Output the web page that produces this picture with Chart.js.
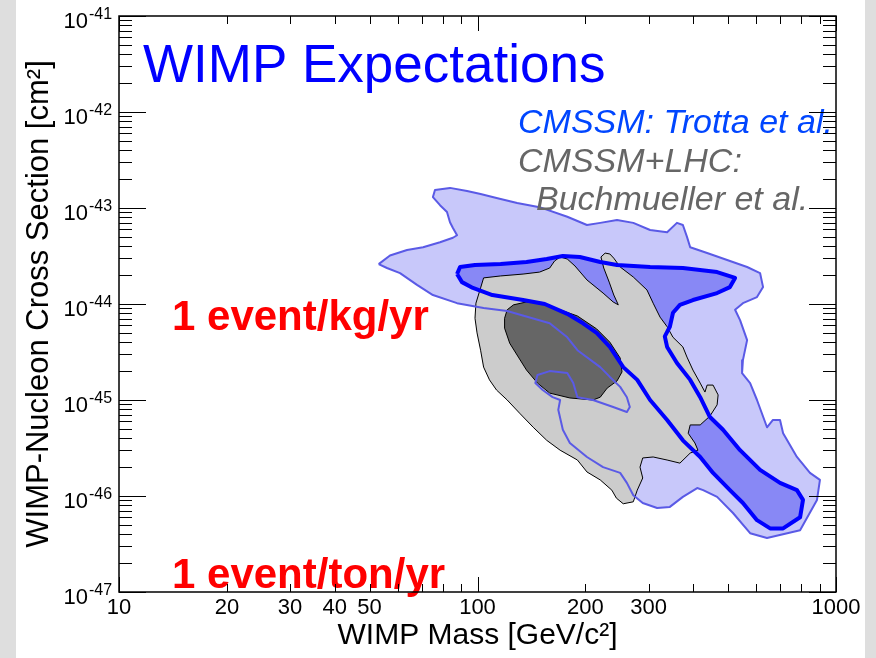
<!DOCTYPE html>
<html>
<head>
<meta charset="utf-8">
<title>WIMP Expectations</title>
<script src="https://cdn.jsdelivr.net/npm/chart.js@4.4.1/dist/chart.umd.min.js"></script>
<style>
  html, body { margin: 0; padding: 0; }
  body {
    width: 876px; height: 658px; overflow: hidden;
    background: linear-gradient(to right, #dedede 0, #dedede 16px, #fff 16px, #fff 865px, #dedede 865px);
  }
  canvas { display: block; }
</style>
</head>
<body>
<canvas id="wimpChart" width="876" height="658"></canvas>
<script>
// Axis ticks / labels
const xTickLabels = [10, 20, 30, 40, 50, 100, 200, 300, 1000];
const xDecades = [10, 100];
const yExponents = [-47, -46, -45, -44, -43, -42, -41];

// CMSSM: Trotta et al. - outer (light blue) contour
const trottaOuterMass = [53, 57, 63.6, 70.5, 78.6, 85.4, 87.7, 85.4, 83.8, 82.2, 78.6, 75.1, 76.1, 83.8, 93.5, 102, 113, 129, 149, 178,
  202, 220, 245, 272, 303, 338, 360, 374, 384, 392, 437, 497, 565, 614, 626, 602, 550, 523, 540, 565,
  550, 547, 576, 602, 642, 667, 698, 712, 778, 846, 902, 885, 794, 642, 576, 516, 466, 426, 410, 374,
  344, 317, 289, 272, 261, 250, 224, 202, 181, 173, 168, 170, 162, 152, 145, 147, 159, 178, 185, 190,
  210, 239, 261, 266, 261, 250, 234, 220, 190, 178, 159, 121, 104, 87.7, 75.1, 67.8, 60.8, 55.9];
const trottaOuterSigma = [2.6e-44, 3.2e-44, 3.65e-44, 3.9e-44, 4.4e-44, 4.9e-44, 5.2e-44, 6.2e-44, 7.1e-44, 9.1e-44,
  1.07e-43, 1.3e-43, 1.54e-43, 1.62e-43, 1.5e-43, 1.4e-43, 1.27e-43, 1.13e-43, 1.02e-43, 8.1e-44,
  6.65e-44, 7.0e-44, 7.5e-44, 7.0e-44, 5.9e-44, 5.6e-44, 7.0e-44, 6.65e-44, 5.0e-44, 3.9e-44,
  3.4e-44, 2.87e-44, 2.43e-44, 2.1e-44, 1.5e-44, 1.18e-44, 1.02e-44, 8.7e-45, 6.8e-45, 4.2e-45,
  2.6e-45, 1.9e-45, 1.5e-45, 1.0e-45, 5.2e-46, 6.2e-46, 6.2e-46, 4.5e-46, 2.55e-46, 1.74e-46,
  1.47e-46, 9.1e-47, 4.4e-47, 3.65e-47, 4.1e-47, 6.65e-47, 9.8e-47, 1.15e-46, 1.21e-46, 9.8e-47,
  7.7e-47, 7.5e-47, 8.45e-47, 1.02e-46, 1.37e-46, 1.74e-46, 2.0e-46, 2.55e-46, 3.57e-46, 4.9e-46,
  7.9e-46, 1.0e-45, 1.07e-45, 1.27e-45, 1.5e-45, 1.82e-45, 2.0e-45, 1.91e-45, 1.5e-45, 1.07e-45,
  1.0e-45, 8.45e-46, 7.5e-46, 8.45e-46, 1.07e-45, 1.37e-45, 1.74e-45, 2.2e-45, 3.3e-45, 4.5e-45,
  6.3e-45, 8.45e-45, 9.1e-45, 1.02e-44, 1.24e-44, 1.58e-44, 2.1e-44, 2.37e-44];

// CMSSM: Trotta et al. - inner (thick blue) contour
const trottaInnerMass = [87.7, 89.4, 98.4, 116, 137, 156, 173, 193, 220, 245, 303, 374, 466, 523, 506, 466, 399, 367,
  351, 344, 333, 338, 360, 392, 418, 445, 484, 540, 614, 698, 778, 809, 794, 712, 655, 602,
  550, 506, 454, 418, 374, 338, 303, 279, 255, 234, 215, 197, 178, 154, 134, 110, 97.1, 90.5];
const trottaInnerSigma = [2.05e-44, 2.43e-44, 2.55e-44, 2.61e-44, 2.74e-44, 2.94e-44, 3.16e-44, 3.09e-44, 2.74e-44,
  2.55e-44, 2.43e-44, 2.37e-44, 2.15e-44, 1.87e-44, 1.5e-44, 1.3e-44, 1.1e-44, 9.8e-45,
  8.1e-45, 5.8e-45, 4.6e-45, 3.57e-45, 2.43e-45, 1.62e-45, 1.07e-45, 6.65e-46, 4.9e-46, 3.0e-46,
  1.87e-46, 1.37e-46, 1.15e-46, 9.1e-47, 6.0e-47, 4.6e-47, 4.6e-47, 5.6e-47, 8.45e-47, 1.15e-46,
  1.74e-46, 2.55e-46, 3.8e-46, 6.2e-46, 1.0e-45, 1.62e-45, 2.2e-45, 3.57e-45, 5.0e-45, 6.3e-45,
  7.9e-45, 1.0e-44, 1.1e-44, 1.24e-44, 1.47e-44, 1.69e-44];

// CMSSM+LHC: Buchmueller et al. - outer (light gray) contour
const lhcOuterMass = [104, 116, 134, 149, 159, 164, 170, 178, 187, 202, 224, 239, 247, 240, 233, 225, 221, 227, 234, 240,
  250, 272, 297, 309, 323, 338, 351, 374, 384, 399, 418, 431, 437, 454, 469, 466, 445, 418, 392, 387,
  404, 412, 392, 367, 338, 309, 289, 284, 289, 279, 272, 255, 244, 237, 220, 202, 190, 170, 156, 143,
  131, 121, 113, 108, 104, 102, 99.7, 98.4, 99.0, 102];
const lhcOuterSigma = [1.87e-44, 1.96e-44, 2.05e-44, 2.15e-44, 2.37e-44, 2.8e-44, 3.09e-44, 2.94e-44, 2.49e-44, 1.78e-44,
  1.3e-44, 1.05e-44, 9.8e-45, 1.24e-44, 1.69e-44, 2.37e-44, 3.09e-44, 3.39e-44, 3.32e-44, 3.0e-44,
  2.43e-44, 1.91e-44, 1.4e-44, 1.02e-44, 7.3e-45, 5.8e-45, 4.5e-45, 3.57e-45, 2.8e-45, 2.05e-45,
  1.5e-45, 1.21e-45, 1.43e-45, 1.43e-45, 1.13e-45, 8.9e-46, 6.8e-46, 5.5e-46, 5.5e-46, 4.5e-46,
  3.57e-46, 3.0e-46, 2.8e-46, 2.2e-46, 2.37e-46, 2.55e-46, 2.49e-46, 2.0e-46, 1.54e-46, 1.15e-46,
  8.7e-47, 8.3e-47, 9.5e-47, 1.15e-46, 1.47e-46, 1.78e-46, 2.37e-46, 3.0e-46, 3.8e-46, 5.2e-46,
  7.3e-46, 1.0e-45, 1.27e-45, 1.62e-45, 2.2e-45, 3.3e-45, 5.0e-45, 7.1e-45, 1.02e-44, 1.47e-44];

// CMSSM+LHC: Buchmueller et al. - inner (dark gray) contour
const lhcInnerMass = [121, 126, 137, 149, 159, 190, 215, 234, 250, 253, 245, 230, 220, 210, 181, 159, 147, 137, 130, 123, 119, 119];
const lhcInnerSigma = [8.7e-45, 9.8e-45, 1.05e-44, 1.02e-44, 9.5e-45, 7.5e-45, 5.5e-45, 4.0e-45, 2.74e-45, 1.96e-45, 1.58e-45,
  1.33e-45, 1.07e-45, 1.0e-45, 1.05e-45, 1.18e-45, 1.5e-45, 2.05e-45, 2.8e-45, 3.9e-45, 5.6e-45, 7.1e-45];

const titleText = 'WIMP Expectations';
const legendLines = ['CMSSM: Trotta et al.', 'CMSSM+LHC:', 'Buchmueller et al.'];
const rateLabels = ['1 event/kg/yr', '1 event/ton/yr'];

const FONT = "'Liberation Sans', Arial, Helvetica, sans-serif";

// tick mark values: 1..9 x each decade
const xTickValues = [];
xDecades.forEach(d => { for (let k = 1; k <= 9; k++) xTickValues.push(k * d); });
xTickValues.push(1000);
const yTickValues = [];
yExponents.slice(0, -1).forEach(e => { for (let k = 1; k <= 9; k++) yTickValues.push(k * Math.pow(10, e)); });
yTickValues.push(Math.pow(10, yExponents[yExponents.length - 1]));

function closedShape(masses, sigmas) {
  const pts = masses.map((m, i) => ({ x: m, y: sigmas[i] }));
  pts.push(pts[0]);
  return pts;
}

function isDecade(v) {
  const l = Math.log10(v);
  return Math.abs(l - Math.round(l)) < 1e-6;
}

// text, frame and inward ticks (ROOT style)
const annotations = {
  id: 'annotations',
  afterDraw(chart) {
    const { ctx, chartArea: a, scales: { x, y } } = chart;
    ctx.save();
    ctx.textBaseline = 'alphabetic';
    ctx.textAlign = 'left';

    ctx.fillStyle = '#0000ff';
    ctx.font = `53px ${FONT}`;
    ctx.fillText(titleText, 143, 82);

    ctx.font = `italic 34px ${FONT}`;
    ctx.fillStyle = '#0046ff';
    ctx.fillText(legendLines[0], 518, 133);
    ctx.fillStyle = '#666666';
    ctx.fillText(legendLines[1], 518, 172);
    ctx.fillText(legendLines[2], 536, 210);

    ctx.fillStyle = '#ff0000';
    ctx.font = `bold 42px ${FONT}`;
    ctx.fillText(rateLabels[0], 172, 330);
    ctx.fillText(rateLabels[1], 172, 588);

    // y tick labels 10^n
    ctx.fillStyle = '#000';
    yExponents.forEach(e => {
      const py = y.getPixelForValue(Math.pow(10, e));
      ctx.font = `22px ${FONT}`;
      ctx.textAlign = 'right';
      ctx.fillText('10', a.left - 31, py + 12);
      ctx.font = `16px ${FONT}`;
      ctx.textAlign = 'left';
      ctx.fillText(String(e), a.left - 30, py + 3);
    });

    ctx.strokeStyle = '#000';
    ctx.lineWidth = 1;
    ctx.beginPath();
    x.ticks.forEach(t => {
      const px = Math.round(x.getPixelForValue(t.value)) + 0.5;
      const len = isDecade(t.value) ? 15 : 8;
      ctx.moveTo(px, a.bottom); ctx.lineTo(px, a.bottom - len);
      ctx.moveTo(px, a.top); ctx.lineTo(px, a.top + len);
    });
    y.ticks.forEach(t => {
      const py = Math.round(y.getPixelForValue(t.value)) + 0.5;
      const len = isDecade(t.value) ? 27 : 13;
      ctx.moveTo(a.left, py); ctx.lineTo(a.left + len, py);
      ctx.moveTo(a.right, py); ctx.lineTo(a.right - len, py);
    });
    ctx.stroke();

    ctx.lineWidth = 1.5;
    ctx.strokeRect(a.left, a.top, a.right - a.left, a.bottom - a.top);
    ctx.restore();
  }
};

const ctx = document.getElementById('wimpChart').getContext('2d');
new Chart(ctx, {
  type: 'line',
  data: {
    datasets: [
      {
        label: 'Trotta inner line',
        data: closedShape(trottaInnerMass, trottaInnerSigma),
        borderColor: '#0000ff',
        borderWidth: 4,
        fill: false,
        order: 1
      },
      {
        label: 'Trotta outer line',
        data: closedShape(trottaOuterMass, trottaOuterSigma),
        borderColor: '#5a5ae6',
        borderWidth: 2,
        fill: false,
        order: 2
      },
      {
        label: 'LHC inner',
        data: closedShape(lhcInnerMass, lhcInnerSigma),
        backgroundColor: '#666666',
        borderColor: '#000000',
        borderWidth: 1,
        fill: 'shape',
        order: 3
      },
      {
        label: 'LHC outer',
        data: closedShape(lhcOuterMass, lhcOuterSigma),
        backgroundColor: '#cccccc',
        borderColor: '#000000',
        borderWidth: 1,
        fill: 'shape',
        order: 4
      },
      {
        label: 'Trotta inner fill',
        data: closedShape(trottaInnerMass, trottaInnerSigma),
        backgroundColor: '#8888f5',
        borderColor: 'rgba(0,0,0,0)',
        borderWidth: 0,
        fill: 'shape',
        order: 5
      },
      {
        label: 'Trotta outer fill',
        data: closedShape(trottaOuterMass, trottaOuterSigma),
        backgroundColor: '#c8c8fa',
        borderColor: 'rgba(0,0,0,0)',
        borderWidth: 0,
        fill: 'shape',
        order: 6
      }
    ]
  },
  options: {
    responsive: false,
    animation: false,
    devicePixelRatio: 1,
    events: [],
    layout: { padding: { left: 0, top: 16, right: 40, bottom: 0 } },
    elements: {
      point: { radius: 0 },
      line: { tension: 0, borderJoinStyle: 'round' }
    },
    plugins: {
      legend: { display: false },
      tooltip: { enabled: false }
    },
    scales: {
      x: {
        type: 'logarithmic',
        min: 10,
        max: 1000,
        grid: { display: false, drawTicks: false },
        border: { display: false },
        afterBuildTicks: s => { s.ticks = xTickValues.map(v => ({ value: v })); },
        afterFit: s => { s.height = 66; },
        ticks: {
          autoSkip: false,
          maxRotation: 0,
          padding: 3,
          color: '#000',
          font: { family: FONT, size: 22 },
          callback: v => xTickLabels.includes(v) ? String(v) : ''
        },
        title: {
          display: true,
          text: 'WIMP Mass [GeV/c²]',
          color: '#000',
          font: { family: FONT, size: 30 },
          padding: { top: 0, bottom: 4 }
        }
      },
      y: {
        type: 'logarithmic',
        min: 1e-47,
        max: 1e-41,
        grid: { display: false, drawTicks: false },
        border: { display: false },
        afterBuildTicks: s => { s.ticks = yTickValues.map(v => ({ value: v })); },
        afterFit: s => { s.width = 119; },
        ticks: { display: false },
        title: {
          display: true,
          text: 'WIMP-Nucleon Cross Section [cm²]',
          color: '#000',
          font: { family: FONT, size: 31 },
          padding: { top: 21, bottom: 0 }
        }
      }
    }
  },
  plugins: [annotations]
});
</script>
</body>
</html>
